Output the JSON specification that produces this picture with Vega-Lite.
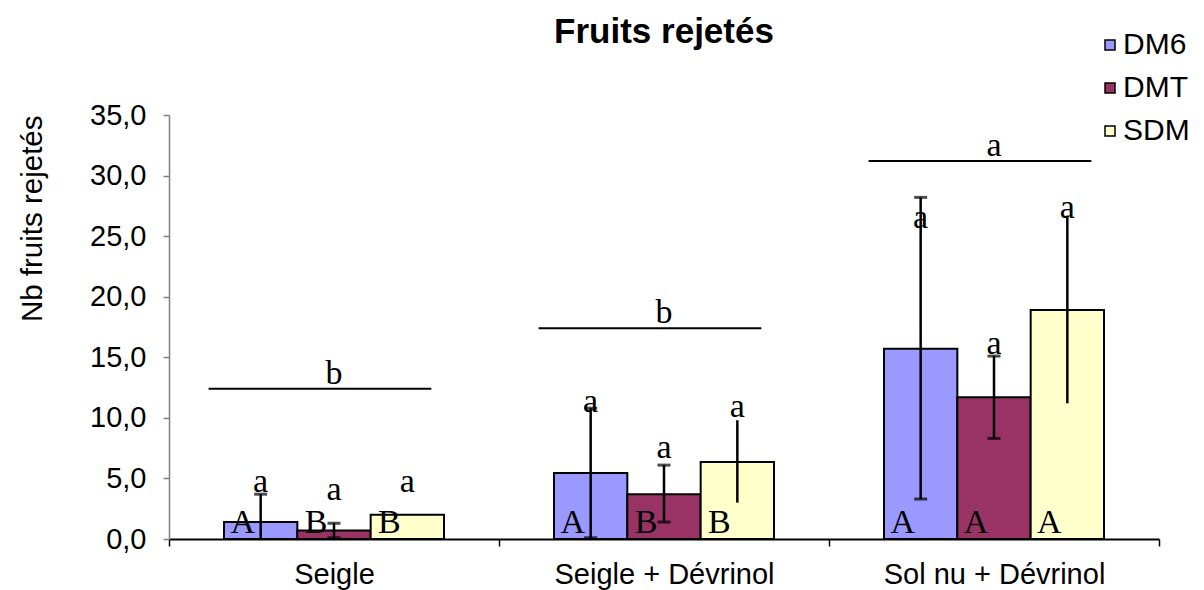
{
  "$schema": "https://vega.github.io/schema/vega-lite/v6.json",
  "width": 990,
  "height": 424,
  "autosize": {"type": "none"},
  "padding": {"left": 169, "top": 115, "right": 45, "bottom": 51},
  "background": "white",
  "title": {"text": "Fruits rejetés", "font": "Liberation Sans", "fontSize": 35, "fontWeight": "bold", "color": "black", "anchor": "middle", "frame": "group", "offset": -20},
  "config": {
    "view": {"stroke": null},
    "font": "Liberation Sans",
    "axisX": {"tickBand": "extent", "tickSize": 7, "tickColor": "black", "tickWidth": 1.5, "domainColor": "black", "domainWidth": 2, "labelFont": "Liberation Sans", "labelFontSize": 29, "labelPadding": 14, "labelAngle": 0, "labelColor": "black", "labelLimit": 0, "grid": false},
    "axisY": {"values": [0, 5, 10, 15, 20, 25, 30, 35], "labelExpr": "replace(format(datum.value, '.1f'), '.', ',')", "labelFont": "Liberation Sans", "labelFontSize": 29, "labelColor": "black", "labelPadding": 17, "tickSize": 6, "tickColor": "#808080", "tickWidth": 1.5, "domainColor": "#808080", "domainWidth": 1.5, "grid": false, "titleFont": "Liberation Sans", "titleFontSize": 29.5, "titleFontWeight": "normal", "titleColor": "black", "titleAngle": -90, "titleAnchor": "end", "titleAlign": "right", "titleBaseline": "alphabetic", "titleX": -128, "titleY": 0}
  },
  "datasets": {
    "bars": [
      {"cat": "Seigle", "series": "DM6", "mean": 1.4, "lo": -0.9, "hi": 3.7, "up": "A", "low": "a", "ly": 4.7},
      {"cat": "Seigle", "series": "DMT", "mean": 0.7, "lo": 0.1, "hi": 1.3, "up": "B", "low": "a", "ly": 4.05},
      {"cat": "Seigle", "series": "SDM", "mean": 2.0, "lo": 2.0, "hi": 2.0, "up": "B", "low": "a", "ly": 4.7},
      {"cat": "Seigle + Dévrinol", "series": "DM6", "mean": 5.45, "lo": 0.1, "hi": 10.8, "up": "A", "low": "a", "ly": 11.3},
      {"cat": "Seigle + Dévrinol", "series": "DMT", "mean": 3.7, "lo": 1.4, "hi": 6.1, "up": "B", "low": "a", "ly": 7.5},
      {"cat": "Seigle + Dévrinol", "series": "SDM", "mean": 6.35, "lo": 3.0, "hi": 9.8, "up": "B", "low": "a", "ly": 10.9},
      {"cat": "Sol nu + Dévrinol", "series": "DM6", "mean": 15.7, "lo": 3.3, "hi": 28.2, "up": "A", "low": "a", "ly": 26.5},
      {"cat": "Sol nu + Dévrinol", "series": "DMT", "mean": 11.7, "lo": 8.3, "hi": 15.1, "up": "A", "low": "a", "ly": 16.1},
      {"cat": "Sol nu + Dévrinol", "series": "SDM", "mean": 18.9, "lo": 11.2, "hi": 26.7, "up": "A", "low": "a", "ly": 27.3}
    ],
    "groups": [
      {"cat": "Seigle", "letter": "b", "y": 12.4},
      {"cat": "Seigle + Dévrinol", "letter": "b", "y": 17.4},
      {"cat": "Sol nu + Dévrinol", "letter": "a", "y": 31.2}
    ]
  },
  "layer": [
    {
      "data": {"name": "bars"},
      "mark": {"type": "bar", "stroke": "black", "strokeWidth": 2},
      "encoding": {
        "x": {"field": "cat", "type": "nominal", "sort": ["Seigle", "Seigle + Dévrinol", "Sol nu + Dévrinol"], "scale": {"paddingInner": 0, "paddingOuter": 0}, "title": null},
        "xOffset": {"field": "series", "type": "nominal", "scale": {"paddingInner": 0, "paddingOuter": 0.75}},
        "y": {"field": "mean", "type": "quantitative", "scale": {"domain": [0, 35], "nice": false}, "title": "Nb fruits rejetés"},
        "color": {"field": "series", "type": "nominal", "scale": {"domain": ["DM6", "DMT", "SDM"], "range": ["#9999FF", "#993366", "#FFFFCC"]},
          "legend": {"orient": "none", "legendX": 926, "legendY": -85, "title": null, "symbolType": "square", "symbolSize": 100, "symbolStrokeColor": "black", "symbolStrokeWidth": 1.5, "labelFont": "Liberation Sans", "labelFontSize": 30, "labelColor": "black", "labelOffset": -2, "rowPadding": 13}}
      }
    },
    {
      "data": {"name": "bars"},
      "mark": {"type": "rule", "color": "black", "strokeWidth": 2.5, "clip": true},
      "encoding": {
        "x": {"field": "cat", "type": "nominal", "sort": ["Seigle", "Seigle + Dévrinol", "Sol nu + Dévrinol"], "title": null},
        "xOffset": {"field": "series", "type": "nominal"},
        "y": {"field": "lo", "type": "quantitative", "title": "Nb fruits rejetés"},
        "y2": {"field": "hi"}
      }
    },
    {
      "data": {"name": "bars"},
      "transform": [{"filter": "datum.series != 'SDM'"}, {"fold": ["lo", "hi"], "as": ["end", "val"]}],
      "mark": {"type": "tick", "color": "black", "thickness": 3, "size": 13, "clip": true},
      "encoding": {
        "x": {"field": "cat", "type": "nominal", "sort": ["Seigle", "Seigle + Dévrinol", "Sol nu + Dévrinol"], "title": null},
        "xOffset": {"field": "series", "type": "nominal"},
        "y": {"field": "val", "type": "quantitative", "title": "Nb fruits rejetés"}
      }
    },
    {
      "data": {"name": "bars"},
      "mark": {"type": "text", "font": "Liberation Serif", "fontSize": 34, "color": "black", "baseline": "middle"},
      "encoding": {
        "x": {"field": "cat", "type": "nominal", "sort": ["Seigle", "Seigle + Dévrinol", "Sol nu + Dévrinol"], "title": null},
        "xOffset": {"field": "series", "type": "nominal"},
        "y": {"field": "ly", "type": "quantitative", "title": "Nb fruits rejetés"},
        "text": {"field": "low"}
      }
    },
    {
      "data": {"name": "bars"},
      "mark": {"type": "text", "font": "Liberation Serif", "fontSize": 34, "color": "black", "baseline": "alphabetic", "dx": -18, "dy": -6},
      "encoding": {
        "x": {"field": "cat", "type": "nominal", "sort": ["Seigle", "Seigle + Dévrinol", "Sol nu + Dévrinol"], "title": null},
        "xOffset": {"field": "series", "type": "nominal"},
        "y": {"datum": 0},
        "text": {"field": "up"}
      }
    },
    {
      "data": {"name": "groups"},
      "mark": {"type": "rule", "color": "black", "strokeWidth": 2},
      "encoding": {
        "x": {"field": "cat", "type": "nominal", "sort": ["Seigle", "Seigle + Dévrinol", "Sol nu + Dévrinol"], "bandPosition": 0.12, "title": null},
        "x2": {"field": "cat", "bandPosition": 0.795},
        "y": {"field": "y", "type": "quantitative", "title": "Nb fruits rejetés"}
      }
    },
    {
      "data": {"name": "groups"},
      "mark": {"type": "text", "font": "Liberation Serif", "fontSize": 34, "color": "black", "baseline": "alphabetic", "dy": -5},
      "encoding": {
        "x": {"field": "cat", "type": "nominal", "sort": ["Seigle", "Seigle + Dévrinol", "Sol nu + Dévrinol"], "title": null},
        "y": {"field": "y", "type": "quantitative", "title": "Nb fruits rejetés"},
        "text": {"field": "letter"}
      }
    }
  ]
}
